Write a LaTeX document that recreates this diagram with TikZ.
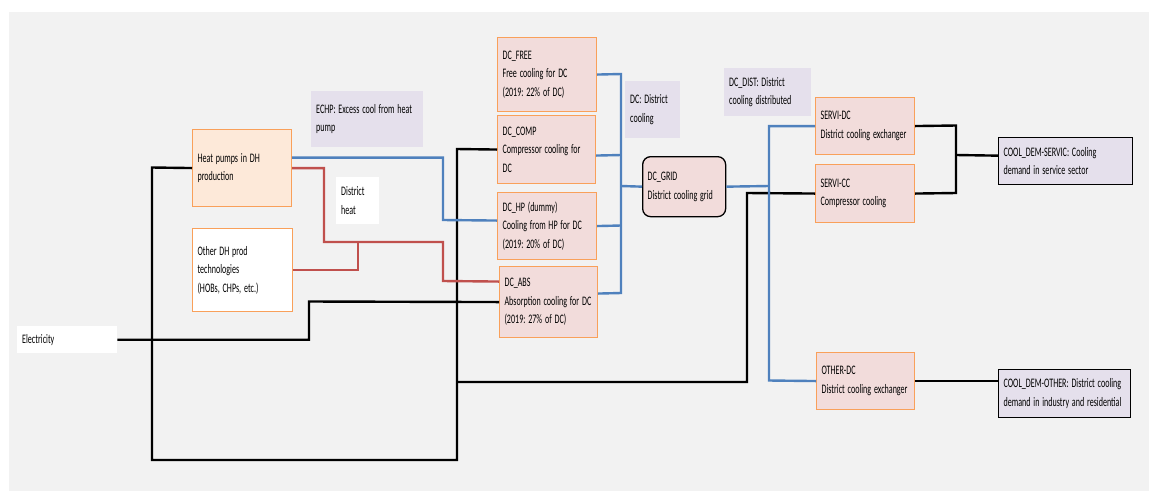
\documentclass[tikz,border=0pt]{standalone}
\usepackage{fontspec}
\setmainfont{Carlito}[FakeStretch=0.62]
\hyphenpenalty=10000
\exhyphenpenalty=10000
\frenchspacing
\newcommand\boxfont{\fontsize{13}{18.5}\selectfont}
\newcommand\tightsp{\spaceskip=2.8pt plus 1pt minus 0.5pt\relax\xspaceskip=2.8pt plus 1pt minus 0.5pt\relax}
\definecolor{bgc}{HTML}{F2F2F2}
\definecolor{pinkf}{HTML}{F2DCDB}
\definecolor{orb}{HTML}{F9A05A}
\definecolor{hpf}{HTML}{FDE9D9}
\definecolor{lav}{HTML}{E5E0EC}
\definecolor{bluel}{HTML}{4F81BD}
\definecolor{redl}{HTML}{C0504D}
\tikzset{
  base/.style={anchor=north west, align=left, inner xsep=5pt, inner ysep=0pt, font=\boxfont, execute at begin node=\tightsp},
  obox/.style={base, draw=orb, line width=1.1pt, fill=pinkf},
  lbl/.style={base, fill=lav},
  kbox/.style={base, draw=black, line width=1.3pt, fill=lav},
  bk/.style={draw=black, line width=2.4pt},
  bl/.style={draw=bluel, line width=2.4pt},
  rd/.style={draw=redl, line width=2.4pt},
}
\begin{document}
\frenchspacing
\begin{tikzpicture}[x=1pt,y=-1pt]
\useasboundingbox (0,0) rectangle (1150,491);
\fill[bgc] (9,12) rectangle (1149,491);

% left column
\node[obox, fill=hpf, minimum width=99pt, minimum height=77pt, text width=89pt] (hp) at (192,129) {Heat pumps in DH\\production};
\node[obox, fill=white, minimum width=100pt, minimum height=83pt, text width=90pt] (odh) at (192,228) {Other DH prod\\technologies\\(HOBs, CHPs, etc.)\\[6pt]};
\node[base, fill=white, minimum width=100pt, minimum height=27pt, text width=90pt] (elec) at (17,326) {Electricity};
\node[lbl, minimum width=112pt, minimum height=56pt, text width=102pt] (echp) at (311,91) {ECHP: Excess cool from heat\\pump};
\node[base, fill=white, minimum width=43pt, minimum height=47pt, text width=33pt] (dheat) at (336,177) {District\\heat};

% DC technologies
\node[obox, minimum width=99pt, minimum height=74pt, text width=89pt] (free) at (497,37) {DC\_FREE\\Free cooling for DC\\(2019: 22\% of DC)};
\node[obox, minimum width=98pt, minimum height=68pt, text width=88pt] (comp) at (497,115) {DC\_COMP\\Compressor cooling for\\DC};
\node[obox, minimum width=99pt, minimum height=67pt, text width=89pt] (hpdc) at (497,192) {DC\_HP (dummy)\\Cooling from HP for DC\\(2019: 20\% of DC)};
\node[obox, minimum width=98pt, minimum height=71pt, text width=88pt] (abs) at (499,266) {DC\_ABS\\Absorption cooling for DC\\(2019: 27\% of DC)};

\node[lbl, minimum width=55pt, minimum height=57pt, text width=45pt] (dclab) at (625,81) {DC: District\\cooling\\[4pt]};
\node[base, draw=black, line width=1.3pt, fill=pinkf, rounded corners=8pt, minimum width=83pt, minimum height=60pt, text width=73pt] (grid) at (642,156) {DC\_GRID\\District cooling grid};
\node[lbl, minimum width=87pt, minimum height=48pt, text width=77pt] (dist) at (724,68) {DC\_DIST: District\\cooling distributed};

% right side
\node[obox, minimum width=99pt, minimum height=57pt, text width=89pt] (servidc) at (815,97) {SERVI-DC\\District cooling exchanger};
\node[obox, minimum width=99pt, minimum height=58pt, text width=89pt] (servicc) at (815,164) {SERVI-CC\\Compressor cooling};
\node[obox, minimum width=98pt, minimum height=57pt, text width=88pt] (otherdc) at (816,352) {OTHER-DC\\District cooling exchanger};
\node[kbox, minimum width=134pt, minimum height=47pt, text width=124pt] (coolserv) at (998,137) {COOL\_DEM-SERVIC: Cooling\\demand in service sector};
\node[kbox, minimum width=132pt, minimum height=48pt, text width=122pt] (coolother) at (998,369) {COOL\_DEM-OTHER: District cooling\\demand in industry and residential};

% black connectors
\draw[bk] (hp.west) -- (152,167.5) -- (152,460) -- (457,460) -- (457,149) -- (comp.west);
\draw[bk] (457,382) -- (747,382) -- (747,193) -- (servicc.west);
\draw[bk] (elec.east) -| (309,301.5) -- (abs.west);
\draw[bk] (servidc.east) -- (956,125.5) -- (956,193) -- (servicc.east);
\draw[bk] (956,155) -- ([yshift=5.5pt]coolserv.west);
\draw[bk] (otherdc.east) -- (otherdc.east -| coolother.west);

% blue connectors
\draw[bl] ([yshift=10.5pt]hp.east) -| (443,220) -- ([yshift=5.5pt]hpdc.west);
\draw[bl] (free.east) -- (621,74) -- (621,293) -- ([yshift=8.5pt]abs.east);
\draw[bl] ([yshift=-6pt]comp.east) -- (621,155);
\draw[bl] (hpdc.east) -- (621,225.5);
\draw[bl] (621,186) -- (grid.west);
\draw[bl] (grid.east) -- (769,186);
\draw[bl] (servidc.west) -| (769,380.5) -- (otherdc.west);

% red connectors
\draw[rd] (hp.east) -| (324,242) -| (443,281) -- ([yshift=20.5pt]abs.west);
\draw[rd] (odh.east) -| (358,242);
\end{tikzpicture}
\end{document}
